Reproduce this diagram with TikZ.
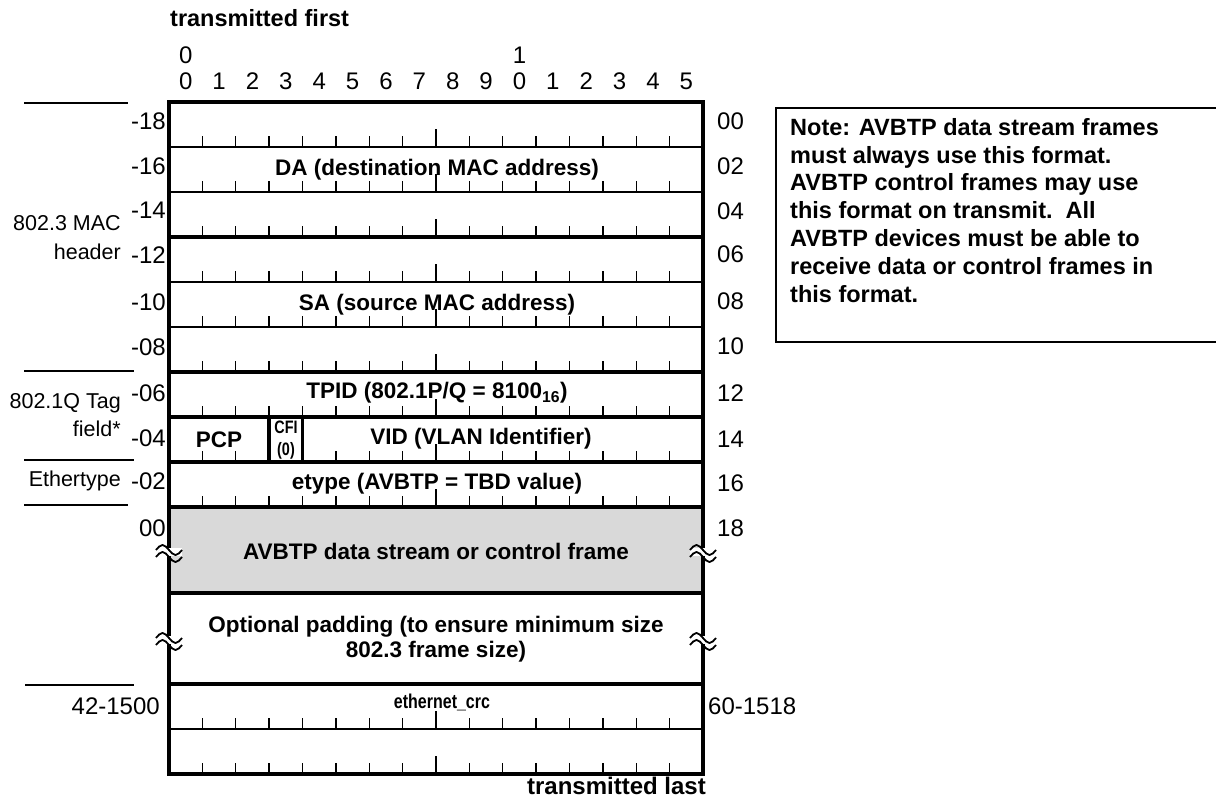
\documentclass[tikz,border=0pt]{standalone}
\usepackage{fontspec}
\setmainfont{Liberation Sans}
\begin{document}
\begin{tikzpicture}[x=1pt,y=-1pt]
\useasboundingbox (0,0) rectangle (1216,800);
\clip (0,0) rectangle (1216,800);
\tikzset{
  thinrule/.style={line width=2pt},
  thickrule/.style={line width=4.5pt},
  tickmark/.style={line width=1.3pt},
  grpline/.style={line width=2pt},
  num/.style={font=\fontsize{24}{26}\selectfont, inner sep=0pt},
  grp/.style={font=\fontsize{21.5}{24}\selectfont, inner sep=0pt, anchor=east},
  fld/.style={font=\bfseries\fontsize{22.5}{26}\selectfont, inner sep=0pt},
  ttl/.style={font=\bfseries\fontsize{23.5}{26}\selectfont, inner sep=0pt},
  small/.style={font=\bfseries\fontsize{18}{20}\selectfont, inner sep=0pt},
  brk/.pic={
    \fill[white] (-13,-4) rectangle (13,4);
    \draw[line width=1.8pt] (-13,-2) sin (-6.5,-7) cos (0,-2) sin (6.5,3) cos (13,-2);
    \draw[line width=1.8pt] (-13,5) sin (-6.5,0) cos (0,5) sin (6.5,10) cos (13,5);
  }
}
% gray payload
\fill[gray!30] (169,507) rectangle (703,593);
% titles and bit numbers
\node[ttl, anchor=west] (tfirst) at (170,18) {transmitted first};
\node[num] (b0top) at ({169+0.5*33.375},55) {0};
\node[num] (b1top) at ({169+10.5*33.375},55) {1};
\foreach \k [count=\c from 0] in {0,1,2,3,4,5,6,7,8,9,0,1,2,3,4,5} {
  \node[num] (bit\c) at ({169+(\c+0.5)*33.375},81) {\k};
}
\node[ttl, font=\bfseries\fontsize{24}{26}\selectfont, anchor=east] (tlast) at (706,786) {transmitted last};
% field labels
\node[fld] (da) at (437,170) {DA (destination MAC address)};
\node[fld] (sa) at (437,305) {SA (source MAC address)};
\node[fld] (tpid) at (437,393) {TPID (802.1P/Q = 8100\textsubscript{16})};
\node[fld] (pcp) at (219,440) {PCP};
\node[small] (cfi) at (286,427) {\scalebox{0.8}[1]{CFI}};
\node[small] (cfiz) at (286,451) {\scalebox{0.8}[1]{(0)}};
\node[fld] (vid) at (481,439) {VID (VLAN Identifier)};
\node[fld] (etype) at (437,484) {etype (AVBTP = TBD value)};
\node[fld] (payload) at (436,551) {AVBTP data stream or control frame};
\node[fld, align=center, font=\bfseries\fontsize{22.5}{25.5}\selectfont] (pad) at (436,639) {Optional padding (to ensure minimum size\\802.3 frame size)};
\node[font=\bfseries\fontsize{20}{22}\selectfont, inner sep=0pt] (crc) at (442,702) {\scalebox{0.8}[1]{ethernet\_crc}};
% ticks
\foreach \yb in {147,192,237,282,327,372,417,507,729,774} {
  \foreach \k in {1,...,15} {
    \ifnum\k=8
      \draw[tickmark] ({169+\k*33.375},\yb) -- ++(0,-18);
    \else
      \draw[tickmark] ({169+\k*33.375},\yb) -- ++(0,-11);
    \fi
  }
}
\foreach \k in {1,2,5,6,7,8,9,10,11,12,13,14,15} {
  \ifnum\k=8
    \draw[tickmark] ({169+\k*33.375},462) -- ++(0,-18);
  \else
    \draw[tickmark] ({169+\k*33.375},462) -- ++(0,-11);
  \fi
}
% horizontal rules
\foreach \yy in {147,192,282,327,729} { \draw[thinrule] (169,\yy) -- (703,\yy); }
\foreach \yy in {237,372,417,462,507,593,684} { \draw[thickrule] (169,\yy) -- (703,\yy); }
% CFI box
\draw[line width=3.5pt] ({169+3*33.375},417) -- ({169+3*33.375},462);
\draw[line width=3.5pt] ({169+4*33.375},417) -- ({169+4*33.375},462);
% frame
\draw[thickrule, line join=miter] (169,102) rectangle (703,774);
% break marks
\pic at (169,552) {brk};
\pic at (703,552) {brk};
\pic at (169,640) {brk};
\pic at (703,640) {brk};
% left numbers
\foreach \t/\yy [count=\c] in {-18/121,-16/166,-14/210,-12/255,-10/302,-08/347,-06/393,-04/438,-02/481,00/528} {
  \node[num, anchor=east] (ln\c) at (166,\yy) {\t};
}
\foreach \t/\yy [count=\c] in {00/121,02/166,04/211,06/254,08/301,10/346,12/393,14/439,16/483,18/528} {
  \node[num, anchor=west] (rn\c) at (717,\yy) {\t};
}
\node[num, anchor=east] (lsz) at (160,706) {42-1500};
\node[num, anchor=west] (rsz) at (708,706) {60-1518};
% group labels
\draw[grpline] (24,103) -- (128,103);
\draw[grpline] (24,371) -- (134,371);
\draw[grpline] (24,460) -- (134,460);
\draw[grpline] (24,505) -- (128,505);
\draw[grpline] (25,685) -- (134,685);
\node[grp] (mac1) at (121,223) {802.3 MAC};
\node[grp] (mac2) at (121,252) {header};
\node[grp] (tag1) at (121,403) {802.1Q Tag};
\node[grp] (tag2) at (121,429) {field*};
\node[grp] (eth) at (121,481) {Ethertype};
% note box
\draw[line width=2pt] (1230,108) -- (776,108) -- (776,342) -- (1230,342);
\node[font=\bfseries\fontsize{23.5}{27.8}\selectfont, inner sep=0pt, align=left, anchor=north west] (note) at (790,118) {Note: AVBTP data stream frames\\must always use this format.\\AVBTP control frames may use\\this format on transmit.\ \ All\\AVBTP devices must be able to\\receive data or control frames in\\this format.};
\end{tikzpicture}
\end{document}
